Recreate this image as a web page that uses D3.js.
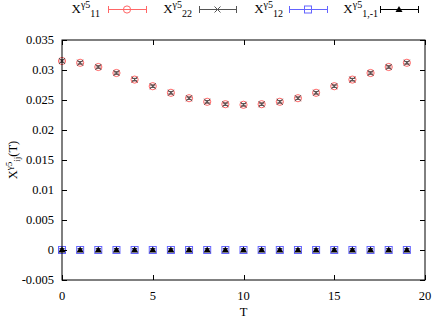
<!DOCTYPE html>
<html>
<head>
<meta charset="utf-8">
<script src="https://cdn.jsdelivr.net/npm/d3@7"></script>
<style>
  html, body { margin: 0; padding: 0; background: #fff; }
  svg { display: block; }
  text { font-family: "Liberation Serif", "Times New Roman", serif; }
</style>
</head>
<body>
<svg id="chart" width="436" height="324"></svg>
<script>
// T slices and correlator values
var T = [0, 1, 2, 3, 4, 5, 6, 7, 8, 9, 10, 11, 12, 13, 14, 15, 16, 17, 18, 19];
var X11 = [0.0315, 0.0312, 0.0305, 0.0295, 0.0284, 0.0273, 0.0262, 0.0253, 0.0247, 0.0243,
           0.0242, 0.0243, 0.0247, 0.0253, 0.0262, 0.0273, 0.0284, 0.0295, 0.0305, 0.0312];
var X22 = [0.0315, 0.0312, 0.0305, 0.0295, 0.0284, 0.0273, 0.0262, 0.0253, 0.0247, 0.0243,
           0.0242, 0.0243, 0.0247, 0.0253, 0.0262, 0.0273, 0.0284, 0.0295, 0.0305, 0.0312];
var X12 = [0, 0, 0, 0, 0, 0, 0, 0, 0, 0, 0, 0, 0, 0, 0, 0, 0, 0, 0, 0];
var X1m1 = [0, 0, 0, 0, 0, 0, 0, 0, 0, 0, 0, 0, 0, 0, 0, 0, 0, 0, 0, 0];
var ERR = [0.0002, 0.0002, 0.0002, 0.0002, 0.0002, 0.0002, 0.0002, 0.0002, 0.0002, 0.0002,
           0.0002, 0.0002, 0.0002, 0.0002, 0.0002, 0.0002, 0.0002, 0.0002, 0.0002, 0.0002];
var xTicks = [0, 5, 10, 15, 20];
var yTicks = [-0.005, 0, 0.005, 0.01, 0.015, 0.02, 0.025, 0.03, 0.035];
var seriesNames = ["11", "22", "12", "1,-1"];

(function () {
  "use strict";
  var svg = d3.select("#chart");
  var M = { l: 62, r: 11, t: 40, b: 44 };
  var W = 436, H = 324;
  var pw = W - M.l - M.r, ph = H - M.t - M.b;
  var x = d3.scaleLinear().domain([0, 20]).range([M.l, M.l + pw]);
  var y = d3.scaleLinear().domain([-0.005, 0.035]).range([M.t + ph, M.t]);

  var RED = "#ff6666", GRAY = "#555555", BLUE = "#6464ff", BLACK = "#000000";
  var series = [
    { vals: X11, color: RED, mark: "circle" },
    { vals: X22, color: GRAY, mark: "cross" },
    { vals: X12, color: BLUE, mark: "square" },
    { vals: X1m1, color: BLACK, mark: "tri" }
  ];

  function marker(g, kind, cx, cy, color) {
    if (kind === "circle") {
      g.append("circle").attr("cx", cx).attr("cy", cy).attr("r", 3.6)
        .attr("fill", "none").attr("stroke", color).attr("stroke-width", 1);
    } else if (kind === "cross") {
      var s = 3;
      g.append("path").attr("d", "M" + (cx - s) + "," + (cy - s) + "L" + (cx + s) + "," + (cy + s) +
        "M" + (cx - s) + "," + (cy + s) + "L" + (cx + s) + "," + (cy - s))
        .attr("stroke", color).attr("stroke-width", 1);
    } else if (kind === "square") {
      g.append("rect").attr("x", cx - 3.5).attr("y", cy - 3.5).attr("width", 7).attr("height", 7)
        .attr("fill", "none").attr("stroke", color).attr("stroke-width", 1);
    } else {
      g.append("path").attr("d", "M" + cx + "," + (cy - 3.5) + "L" + (cx + 3.5) + "," + (cy + 2.5) +
        "L" + (cx - 3.5) + "," + (cy + 2.5) + "Z").attr("fill", color);
    }
  }

  // data points with error bars
  series.forEach(function (s) {
    var g = svg.append("g");
    T.forEach(function (t, i) {
      var cx = x(t), v = s.vals[i], e = ERR[i];
      var y0 = y(v - e), y1 = y(v + e);
      g.append("line").attr("x1", cx).attr("x2", cx).attr("y1", y0).attr("y2", y1)
        .attr("stroke", s.color).attr("stroke-width", 1);
      [y0, y1].forEach(function (yy) {
        g.append("line").attr("x1", cx - 2.5).attr("x2", cx + 2.5).attr("y1", yy).attr("y2", yy)
          .attr("stroke", s.color).attr("stroke-width", 1);
      });
      marker(g, s.mark, cx, y(v), s.color);
    });
  });

  // axes with mirrored inward ticks
  var tk = 5;
  var gAx = svg.append("g");
  gAx.append("rect").attr("x", M.l).attr("y", M.t).attr("width", pw).attr("height", ph)
    .attr("fill", "none").attr("stroke", "#000").attr("stroke-width", 1);
  yTicks.forEach(function (v) {
    var yy = Math.round(y(v)) + 0.5;
    gAx.append("line").attr("x1", M.l).attr("x2", M.l + tk).attr("y1", yy).attr("y2", yy).attr("stroke", "#000");
    gAx.append("line").attr("x1", M.l + pw).attr("x2", M.l + pw - tk).attr("y1", yy).attr("y2", yy).attr("stroke", "#000");
    gAx.append("text").attr("x", M.l - 8).attr("y", y(v) + 4).attr("text-anchor", "end")
      .style("font-size", "12.5px").text(String(+v.toFixed(3)));
  });
  xTicks.forEach(function (v) {
    var xx = Math.round(x(v)) + 0.5;
    gAx.append("line").attr("x1", xx).attr("x2", xx).attr("y1", M.t + ph).attr("y2", M.t + ph - tk).attr("stroke", "#000");
    gAx.append("line").attr("x1", xx).attr("x2", xx).attr("y1", M.t).attr("y2", M.t + tk).attr("stroke", "#000");
    gAx.append("text").attr("x", x(v)).attr("y", M.t + ph + 20).attr("text-anchor", "middle")
      .style("font-size", "12.5px").text(v);
  });

  // axis titles
  svg.append("text").attr("x", x(10)).attr("y", 316).attr("text-anchor", "middle")
    .style("font-size", "12.5px").text("T");
  var yl = svg.append("text").attr("transform", "translate(17," + (M.t + ph / 2) + ") rotate(-90)")
    .attr("text-anchor", "middle").style("font-size", "12.5px");
  yl.append("tspan").text("X");
  yl.append("tspan").attr("dy", -5).style("font-size", "9px").text("γ5");
  yl.append("tspan").attr("dy", 8).style("font-size", "9px").text("ij");
  yl.append("tspan").attr("dy", -3).text("(T)");

  // legend
  var keyText = [100, 192, 283, 378];
  var keyLine = [[108, 146], [199, 236], [289, 327], [380, 418]];
  var ky = 9;
  series.forEach(function (s, i) {
    var t = svg.append("text").attr("x", keyText[i]).attr("y", ky + 4).attr("text-anchor", "end")
      .style("font-size", "13px");
    t.append("tspan").text("X");
    t.append("tspan").attr("dy", -5).style("font-size", "10px").text("γ5");
    t.append("tspan").attr("dy", 9).style("font-size", "10px").text(seriesNames[i]);
    var a = keyLine[i][0], b = keyLine[i][1];
    svg.append("line").attr("x1", a).attr("x2", b).attr("y1", ky + 0.5).attr("y2", ky + 0.5)
      .attr("stroke", s.color);
    [a, b].forEach(function (xx) {
      svg.append("line").attr("x1", xx + 0.5).attr("x2", xx + 0.5).attr("y1", ky - 3).attr("y2", ky + 4)
        .attr("stroke", s.color);
    });
    marker(svg, s.mark, (a + b) / 2, ky + 0.5, s.color);
  });
})();
</script>
</body>
</html>
